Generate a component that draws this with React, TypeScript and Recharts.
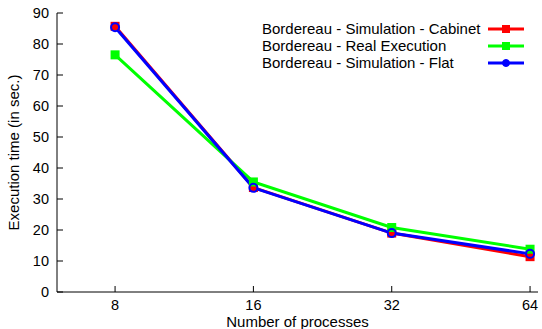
import { LineChart, Line, XAxis, YAxis, Legend, Label } from "recharts";

// values
const procs = [8, 16, 32, 64];
const cabinet = [85.7, 33.7, 19.0, 11.4];
const realExec = [76.5, 35.5, 20.8, 13.8];
const flat = [85.4, 33.6, 19.0, 12.3];
const yTicks = [0, 10, 20, 30, 40, 50, 60, 70, 80, 90];

const seriesNames = [
    "Bordereau - Simulation - Cabinet",
    "Bordereau - Real Execution",
    "Bordereau - Simulation - Flat",
];
const seriesColors = ["#ff0000", "#00ff00", "#0000ff"];

const data = procs.map((p, i) => ({
    procs: p,
    cabinet: cabinet[i],
    real: realExec[i],
    flat: flat[i],
}));

const FONT = "'Liberation Sans', Arial, Helvetica, sans-serif";
const FS = 15;
const TICK_FS = 14.5;
const TICK = 6;

const SquareDot = ({ cx, cy, fill, size = 9 }: any) => {
    if (cx == null || cy == null) return null;
    return <rect x={cx - size / 2} y={cy - size / 2} width={size} height={size} fill={fill} />;
};

const CircleDot = ({ cx, cy, stroke, r = 4 }: any) => {
    if (cx == null || cy == null) return null;
    return <circle cx={cx} cy={cy} r={r} fill="none" stroke={stroke} strokeWidth={2} />;
};

const LeftTick = ({ x, y, payload }: any) => (
    <g>
        <text x={x} y={y} dy="0.355em" textAnchor="end" fontSize={TICK_FS} fontFamily={FONT} fill="#000">
            {payload.value}
        </text>
        <line x1={x + 8} x2={x + 8 + TICK} y1={y} y2={y} stroke="#000" />
    </g>
);

const RightTick = ({ x, y }: any) => <line x1={x - TICK} x2={x} y1={y} y2={y} stroke="#000" />;

const BottomTick = ({ x, y, payload }: any) => (
    <g>
        <text x={x} y={y} dy="0.71em" textAnchor="middle" fontSize={TICK_FS} fontFamily={FONT} fill="#000">
            {payload.value}
        </text>
        <line x1={x} x2={x} y1={y - 8} y2={y - 8 - TICK} stroke="#000" />
    </g>
);

const TopTick = ({ x, y }: any) => <line x1={x} x2={x} y1={y} y2={y + TICK} stroke="#000" />;

const LegendSample = ({ index }: { index: number }) => {
    const c = seriesColors[index];
    return (
        <svg width={36} height={12} style={{ display: "block" }}>
            <line x1={0} x2={36} y1={6} y2={6} stroke={c} strokeWidth={3} />
            {index === 2 ? (
                <circle cx={18} cy={6} r={3.5} fill={c} stroke={c} />
            ) : (
                <rect x={14} y={2} width={8} height={8} fill={c} />
            )}
        </svg>
    );
};

const KeyBox = () => (
    <div style={{ fontFamily: FONT, fontSize: FS, color: "#000" }}>
        {seriesNames.map((name, i) => (
            <div key={name} style={{ display: "flex", alignItems: "center", height: 17 }}>
                <span style={{ width: 226, whiteSpace: "nowrap" }}>{name}</span>
                <LegendSample index={i} />
            </div>
        ))}
    </div>
);

export default function App() {
    return (
        <div style={{ position: "absolute", left: 0, top: 0, background: "#fff" }}>
            <LineChart
                width={542}
                height={329}
                data={data}
                margin={{ top: 13, right: 4, bottom: 0, left: 0 }}
                style={{ fontFamily: FONT }}
            >
                <XAxis
                    dataKey="procs"
                    type="number"
                    scale="log"
                    domain={[5.98, 66.6]}
                    ticks={procs}
                    height={37}
                    tickSize={0}
                    tickMargin={8}
                    tickLine={false}
                    tick={<BottomTick />}
                    axisLine={{ stroke: "#000" }}
                    allowDataOverflow
                >
                    <Label
                        content={({ viewBox }: any) => (
                            <text
                                x={viewBox.x + viewBox.width / 2}
                                y={viewBox.y + 35}
                                textAnchor="middle"
                                fontSize={FS}
                                fontFamily={FONT}
                                fill="#000"
                            >
                                Number of processes
                            </text>
                        )}
                    />
                </XAxis>
                <XAxis
                    xAxisId="top"
                    orientation="top"
                    dataKey="procs"
                    type="number"
                    scale="log"
                    domain={[5.98, 66.6]}
                    ticks={procs}
                    height={0}
                    tickSize={0}
                    tickMargin={0}
                    tickLine={false}
                    tick={<TopTick />}
                    axisLine={{ stroke: "#000" }}
                    allowDataOverflow
                />
                <YAxis
                    type="number"
                    domain={[0, 90]}
                    ticks={yTicks}
                    width={57}
                    tickSize={0}
                    tickMargin={8}
                    tickLine={false}
                    tick={<LeftTick />}
                    axisLine={{ stroke: "#000" }}
                    interval={0}
                >
                    <Label
                        content={({ viewBox }: any) => {
                            const cx = 19;
                            const cy = viewBox.y + viewBox.height / 2;
                            return (
                                <text
                                    x={cx}
                                    y={cy}
                                    textAnchor="middle"
                                    fontSize={FS}
                                    fontFamily={FONT}
                                    fill="#000"
                                    transform={`rotate(-90, ${cx}, ${cy})`}
                                >
                                    Execution time (in sec.)
                                </text>
                            );
                        }}
                    />
                </YAxis>
                <YAxis
                    yAxisId="right"
                    orientation="right"
                    type="number"
                    domain={[0, 90]}
                    ticks={yTicks}
                    width={0}
                    tickSize={0}
                    tickMargin={0}
                    tickLine={false}
                    tick={<RightTick />}
                    axisLine={{ stroke: "#000" }}
                    interval={0}
                />
                <Legend
                    layout="vertical"
                    align="center"
                    verticalAlign="middle"
                    content={() => <KeyBox />}
                    wrapperStyle={{ left: 262, top: 20, width: 270, height: 52 }}
                />
                <Line
                    dataKey="cabinet"
                    name={seriesNames[0]}
                    stroke={seriesColors[0]}
                    strokeWidth={3}
                    isAnimationActive={false}
                    dot={(p: any) => <SquareDot key={`c-${p.index}`} cx={p.cx} cy={p.cy} fill={seriesColors[0]} />}
                />
                <Line
                    dataKey="real"
                    name={seriesNames[1]}
                    stroke={seriesColors[1]}
                    strokeWidth={3}
                    isAnimationActive={false}
                    dot={(p: any) => <SquareDot key={`r-${p.index}`} cx={p.cx} cy={p.cy} fill={seriesColors[1]} />}
                />
                <Line
                    dataKey="flat"
                    name={seriesNames[2]}
                    stroke={seriesColors[2]}
                    strokeWidth={3}
                    isAnimationActive={false}
                    dot={(p: any) => <CircleDot key={`f-${p.index}`} cx={p.cx} cy={p.cy} stroke={seriesColors[2]} />}
                />
            </LineChart>
        </div>
    );
}
